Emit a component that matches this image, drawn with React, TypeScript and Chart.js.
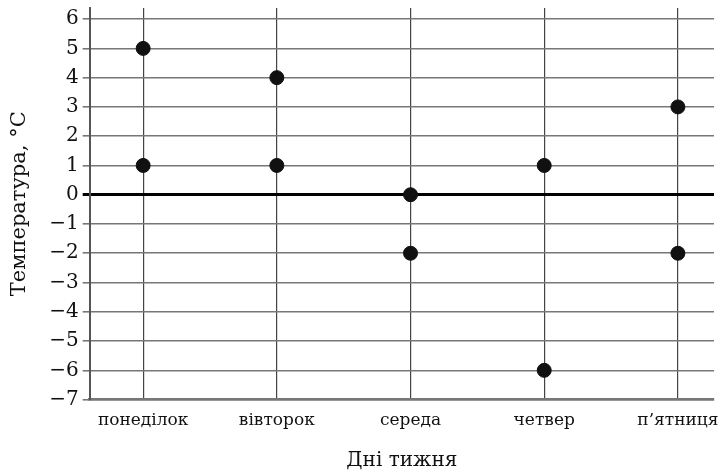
import React, { useEffect, useRef } from "react";
import { Chart, registerables } from "chart.js";

Chart.register(...registerables);

const categories = ["понеділок", "вівторок", "середа", "четвер", "п’ятниця"];
const highTemps = [5, 4, 0, 1, 3];
const lowTemps = [1, 1, -2, -6, -2];
const yTicks = [-7, -6, -5, -4, -3, -2, -1, 0, 1, 2, 3, 4, 5, 6];
const yTitle = "Температура, °C";
const xTitle = "Дні тижня";

export default function App() {
  const ref = useRef<HTMLCanvasElement | null>(null);

  useEffect(() => {
    document.body.style.margin = "0";
    const canvas = ref.current;
    if (!canvas) return;
    const points: { x: number; y: number }[] = [];
    categories.forEach((_, i) => {
      points.push({ x: i, y: highTemps[i] });
      points.push({ x: i, y: lowTemps[i] });
    });
    const serif = "'DejaVu Serif', 'Liberation Serif', serif";
    const chart = new Chart(canvas, {
      type: "scatter",
      data: {
        datasets: [
          {
            data: points,
            backgroundColor: "#111",
            borderColor: "#111",
            pointRadius: 7,
            pointHoverRadius: 7,
          },
        ],
      },
      options: {
        animation: false,
        responsive: false,
        maintainAspectRatio: false,
        layout: { padding: { top: 7, right: 10, left: 7, bottom: 0 } },
        plugins: { legend: { display: false }, tooltip: { enabled: false } },
        scales: {
          x: {
            type: "linear",
            min: -0.4,
            max: 4.27,
            afterBuildTicks: (scale: any) => {
              scale.ticks = categories.map((_, i) => ({ value: i }));
            },
            ticks: {
              autoSkip: false,
              maxRotation: 0,
              color: "#111",
              padding: 0,
              font: { family: serif, size: 17 },
              callback: (v: any) => categories[Number(v)] ?? "",
            },
            grid: {
              color: "#444",
              lineWidth: 1.2,
              drawTicks: true,
              tickLength: 11,
              tickColor: "rgba(0,0,0,0)",
            },
            border: { color: "#777", width: 2.5 },
            title: {
              display: true,
              text: xTitle,
              color: "#111",
              font: { family: serif, size: 20 },
              padding: { top: 18, bottom: 0 },
            },
          },
          y: {
            type: "linear",
            min: -7,
            max: 6.38,
            afterBuildTicks: (scale: any) => {
              scale.ticks = yTicks.map((v) => ({ value: v }));
            },
            ticks: {
              color: "#111",
              padding: 4,
              font: { family: serif, size: 20, lineHeight: 0.2 },
              callback: (v: any) => {
                const n = Number(v);
                return n < 0 ? "−" + Math.abs(n) : String(n);
              },
            },
            grid: {
              color: (ctx: any) => (ctx.tick && ctx.tick.value === 0 ? "#000" : "#777"),
              lineWidth: (ctx: any) => (ctx.tick && ctx.tick.value === 0 ? 3 : 1.6),
              tickLength: 7,
              tickColor: (ctx: any) => (ctx.tick && ctx.tick.value === 0 ? "#000" : "#777"),
            },
            border: { color: "#555", width: 2 },
            title: {
              display: true,
              text: yTitle,
              color: "#111",
              font: { family: serif, size: 21 },
              padding: { top: 0, bottom: 13 },
            },
          },
        },
      },
    });
    return () => chart.destroy();
  }, []);

  return <canvas ref={ref} width={724} height={473} style={{ display: "block" }} />;
}
